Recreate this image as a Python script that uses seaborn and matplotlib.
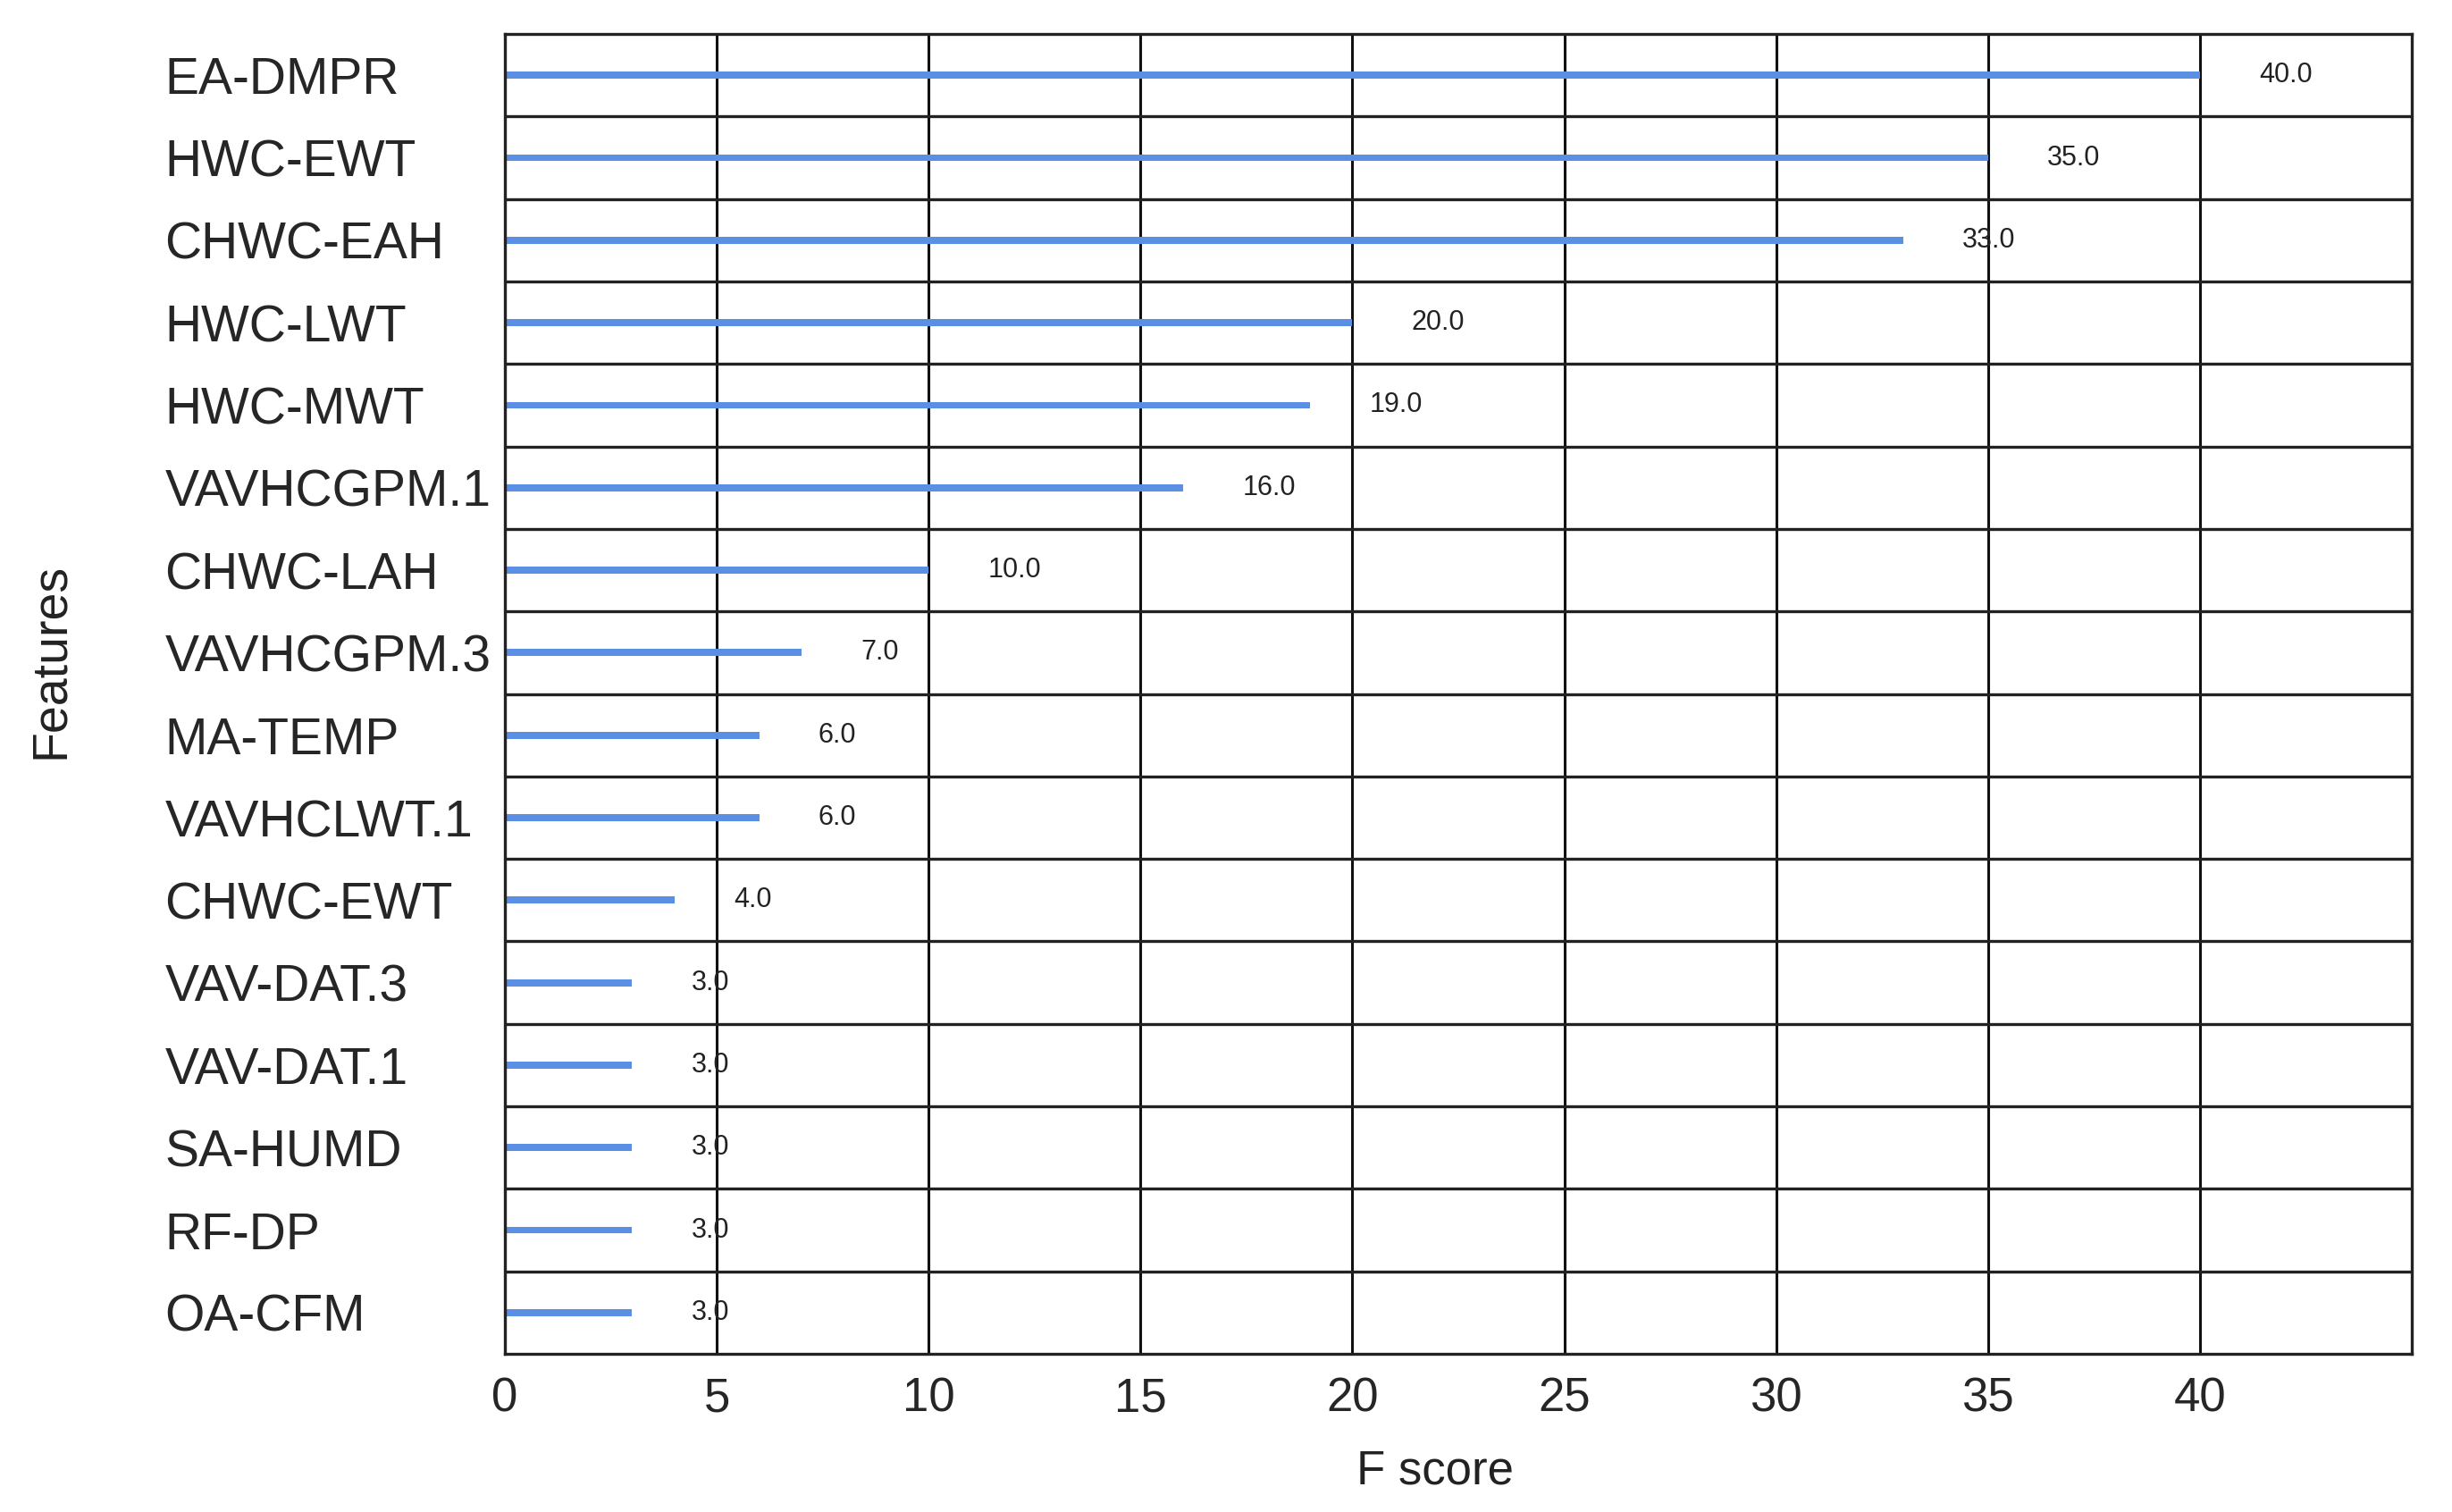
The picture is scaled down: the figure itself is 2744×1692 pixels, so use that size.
import matplotlib
matplotlib.use("Agg")
import matplotlib.pyplot as plt
import numpy as np
import pandas as pd
import seaborn as sns

features = [
    "EA-DMPR", "HWC-EWT", "CHWC-EAH", "HWC-LWT", "HWC-MWT", "VAVHCGPM.1",
    "CHWC-LAH", "VAVHCGPM.3", "MA-TEMP", "VAVHCLWT.1", "CHWC-EWT",
    "VAV-DAT.3", "VAV-DAT.1", "SA-HUMD", "RF-DP", "OA-CFM",
]
f_scores = [40.0, 35.0, 33.0, 20.0, 19.0, 16.0, 10.0, 7.0, 6.0, 6.0, 4.0,
            3.0, 3.0, 3.0, 3.0, 3.0]
x_ticks = [0, 5, 10, 15, 20, 25, 30, 35, 40]

df = pd.DataFrame({"feature": features, "score": f_scores})

sns.set_theme(style="white")
plt.rcParams["font.family"] = ["Liberation Sans", "DejaVu Sans"]

fig = plt.figure(figsize=(13.72, 8.46), dpi=200)
ax = fig.add_axes([0.2059, 0.1046, 0.7777, 0.8729])

sns.barplot(data=df, x="score", y="feature", orient="h", color="#5b8fe3",
            width=0.085, saturation=1, linewidth=0, ax=ax)

for i, v in enumerate(f_scores):
    ax.text(v + 1.4, i, f"{v:.1f}", va="center", ha="left", fontsize=11,
            color="#222222")

ax.set_xlim(0, 45)
ax.set_ylim(len(features) - 0.5, -0.5)
ax.set_xticks(x_ticks)
ax.set_xticklabels([str(t) for t in x_ticks], fontsize=19)
ax.set_yticks(range(len(features)))
ax.set_yticklabels(features, fontsize=20.5, ha="left")
ax.tick_params(axis="y", length=0, pad=137)
ax.tick_params(axis="x", length=0, pad=9)

# row separators and vertical grid
ax.set_yticks(np.arange(0.5, len(features) - 1, 1.0), minor=True)
ax.tick_params(axis="y", which="minor", length=0)
ax.grid(True, which="minor", axis="y", color="#222222", linewidth=1.2)
ax.grid(True, which="major", axis="x", color="#111111", linewidth=1.1)
ax.set_axisbelow(True)

for s in ax.spines.values():
    s.set_color("#222222")
    s.set_linewidth(1.2)
    s.set_visible(True)

ax.set_xlabel("F score", fontsize=19, color="#222222")
ax.set_ylabel("Features", fontsize=20, color="#222222")
ax.xaxis.set_label_coords(0.488, -0.072)
ax.yaxis.set_label_coords(-0.226, 0.525)

fig.savefig("out.png", dpi=200, facecolor="white")
